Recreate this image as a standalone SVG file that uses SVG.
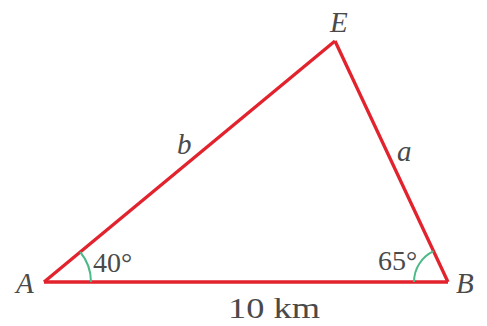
<svg xmlns="http://www.w3.org/2000/svg" width="487" height="326" viewBox="0 0 487 326">
<style>
.side{fill:none;stroke:#e2222c;stroke-width:3.3;stroke-linejoin:miter;stroke-linecap:butt}
.arc{fill:none;stroke:#4cb987;stroke-width:2}
.lbl{font-family:"Liberation Serif","Times New Roman",serif;fill:#4a4a4a}
.it{font-style:italic;font-size:29px}
.deg{font-size:28px}
</style>
<rect width="487" height="326" fill="#ffffff"/>
<g id="connectors">
<path id="side-AB" class="side" d="M44,282 L448,282"/>
<path id="side-BE" class="side" d="M448,282 L335,41"/>
<path id="side-EA" class="side" d="M335,41 L44,282"/>
<path id="arc-A" class="arc" d="M91,282 A47,47 0 0 0 80.2,252"/>
<path id="arc-B" class="arc" d="M414,282 A34,34 0 0 1 433.6,251.2"/>
</g>
<g id="node-A"><text class="lbl it" x="16" y="293">A</text></g>
<g id="node-B"><text class="lbl it" x="456" y="293">B</text></g>
<g id="node-E"><text class="lbl it" x="330" y="32">E</text></g>
<g id="label-b"><text class="lbl it" x="177" y="154">b</text></g>
<g id="label-a"><text class="lbl it" x="397" y="161">a</text></g>
<g id="label-40"><text class="lbl deg" x="93" y="272">40°</text></g>
<g id="label-65"><text class="lbl deg" x="378" y="270">65°</text></g>
<g id="label-10km"><text class="lbl" x="228" y="318" font-size="29" textLength="92" lengthAdjust="spacingAndGlyphs">10 km</text></g>
</svg>
